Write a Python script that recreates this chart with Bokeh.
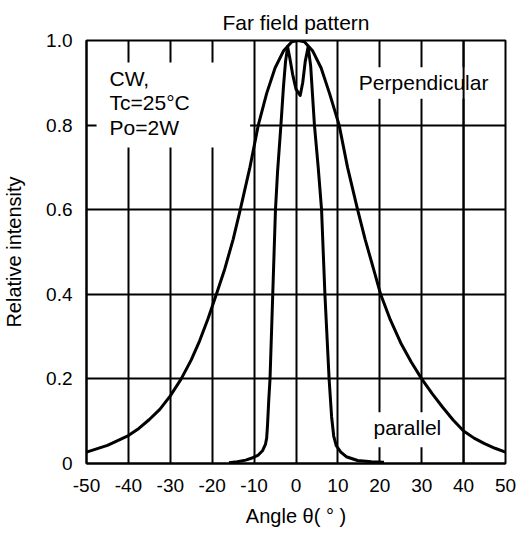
from bokeh.plotting import figure
from bokeh.models import Range1d, FixedTicker, Label, BoxAnnotation, Span
from bokeh.embed import file_html
from bokeh.resources import INLINE

# ---- data ----
perp_angle = [-50, -45, -40, -37.5, -35, -32.5, -30, -27.4, -25, -23, -21, -19, -17, -15, -13.3,
              -11, -9, -7, -5, -3, -1, 0.5, 2, 4, 6, 8, 10.3, 12.3, 14.7, 16.5, 18.5,
              20.2, 22.5, 25, 27.5, 30, 32.5, 35, 37.5, 40, 42.5, 45, 47.5, 50]
perp_intensity = [0.027, 0.043, 0.066, 0.083, 0.104, 0.128, 0.160, 0.200, 0.245, 0.290, 0.342, 0.400,
                  0.460, 0.530, 0.600, 0.700, 0.800, 0.875, 0.935, 0.975, 0.997, 1.000, 0.997, 0.975,
                  0.935, 0.875, 0.800, 0.700, 0.600, 0.530, 0.460, 0.400, 0.340, 0.285, 0.240, 0.200,
                  0.165, 0.133, 0.103, 0.077, 0.060, 0.047, 0.036, 0.027]

par_angle = [-16, -14, -12, -10.5, -9, -8, -7.3, -7, -6.8, -6.5, -6.2, -5.55, -4.9, -4.4, -3.6, -3.0,
             -2.5, -2.0, -1.5, -0.8, 0, 1.0, 1.6, 2.2, 2.9, 3.5, 4.4, 5.3, 6.1, 6.9, 7.9, 8.5, 9.0,
             9.6, 10.7, 12, 14.7, 18, 21]
par_intensity = [0.002, 0.004, 0.008, 0.013, 0.020, 0.030, 0.045, 0.060, 0.090, 0.150, 0.200, 0.400,
                 0.600, 0.690, 0.800, 0.890, 0.950, 0.985, 0.960, 0.920, 0.885, 0.870, 0.900, 0.950,
                 0.985, 0.940, 0.800, 0.700, 0.600, 0.400, 0.200, 0.110, 0.065, 0.042, 0.027, 0.016,
                 0.007, 0.004, 0.003]

x_ticks = [-50, -40, -30, -20, -10, 0, 10, 20, 30, 40, 50]
x_tick_labels = ["-50", "-40", "-30", "-20", "-10", "0", "10", "20", "30", "40", "50"]
y_ticks = [0, 0.2, 0.4, 0.6, 0.8, 1.0]
y_tick_labels = ["0", "0.2", "0.4", "0.6", "0.8", "1.0"]

title_text = "Far field pattern"
x_label = "Angle \u03b8( \u00b0 )"
y_label = "Relative intensity"
cond_lines = ["CW,", "Tc=25\u00b0C", "Po=2W"]

FONT = "Liberation Sans"

p = figure(width=520, height=529, output_backend="svg", toolbar_location=None,
           x_range=Range1d(-50, 50), y_range=Range1d(0, 1.0),
           min_border_left=85, min_border_right=15, min_border_top=40, min_border_bottom=66,
           background_fill_color="white", border_fill_color="white",
           title=title_text)

p.title.align = "center"
p.title.text_font = FONT
p.title.text_font_size = "21px"
p.title.text_font_style = "normal"
p.title.text_color = "black"
p.title.standoff = 14

p.outline_line_color = "black"
p.outline_line_width = 2

# axes
p.xaxis.ticker = FixedTicker(ticks=x_ticks)
p.yaxis.ticker = FixedTicker(ticks=y_ticks)
p.xaxis.major_label_overrides = {t: s for t, s in zip(x_ticks, x_tick_labels)}
p.yaxis.major_label_overrides = {t: s for t, s in zip(y_ticks, y_tick_labels)}
p.xaxis.axis_label = x_label
p.yaxis.axis_label = y_label
for ax in (p.xaxis[0], p.yaxis[0]):
    ax.axis_line_color = "black"
    ax.axis_line_width = 2
    ax.major_tick_in = 0
    ax.major_tick_out = 0
    ax.minor_tick_in = 0
    ax.minor_tick_out = 0
    ax.major_label_text_font = FONT
    ax.major_label_text_font_size = "19px"
    ax.major_label_text_color = "black"
    ax.axis_label_text_font = FONT
    ax.axis_label_text_font_size = "20px"
    ax.axis_label_text_font_style = "normal"
    ax.axis_label_text_color = "black"
p.xaxis.major_label_standoff = 15
p.yaxis.major_label_standoff = 14
p.xaxis.axis_label_standoff = 10
p.yaxis.axis_label_standoff = 18

# grid
for g in (p.xgrid[0], p.ygrid[0]):
    g.grid_line_color = "black"
    g.grid_line_width = 2
    g.grid_line_alpha = 1
    g.level = "image"
p.xgrid.ticker = FixedTicker(ticks=x_ticks)
p.ygrid.ticker = FixedTicker(ticks=y_ticks)

# white boxes behind the text blocks (cover grid lines)
for (l, r, b, t) in [(-47.6, -10.95, 0.747, 0.948), (13.6, 47.4, 0.862, 0.937), (17.1, 36.0, 0.0385, 0.121)]:
    p.add_layout(BoxAnnotation(left=l, right=r, bottom=b, top=t, fill_color="white", fill_alpha=1,
                               line_color=None, level="underlay"))

# curves
p.line(perp_angle, perp_intensity, line_color="black", line_width=3, line_join="round")
p.line(par_angle, par_intensity, line_color="black", line_width=3, line_join="round")

# grid line at 40 drawn over the "Perpendicular" text box
p.add_layout(Span(location=40, dimension="height", line_color="black", line_width=2, level="underlay"))


def lab(x, y, text, size="21px", align="left"):
    p.add_layout(Label(x=x, y=y, text=text, text_font=FONT, text_font_size=size,
                       text_align=align, text_baseline="alphabetic", text_color="black"))


for i, s in enumerate(cond_lines):
    lab(-44.5, 0.911 - i * 0.0585, s)
lab(15.0, 0.901, "Perpendicular")
lab(18.5, 0.086, "parallel")

open("out.html", "w").write(file_html(p, INLINE))
